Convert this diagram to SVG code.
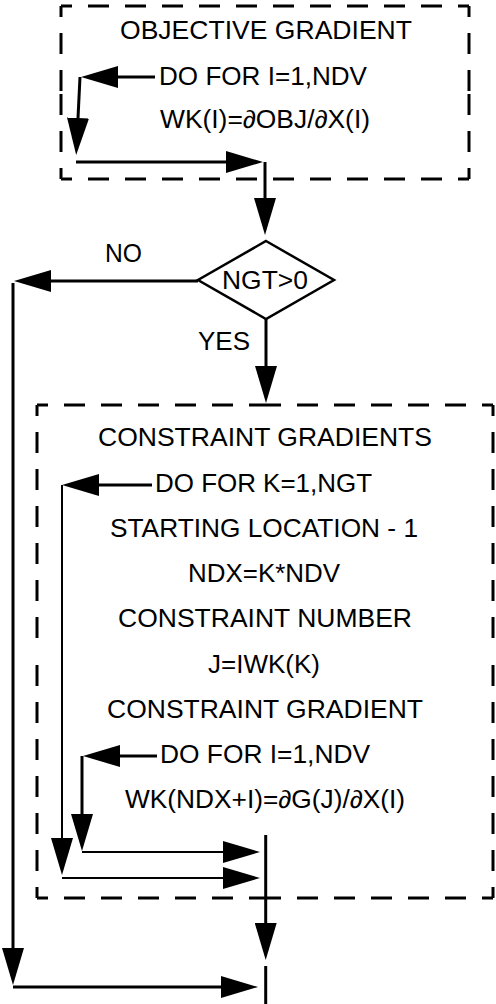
<svg xmlns="http://www.w3.org/2000/svg" width="496" height="1004" viewBox="0 0 496 1004">
  <style>
    .box { fill: none; stroke: #000; stroke-width: 3; stroke-dasharray: 21 16; stroke-dashoffset: 10; }
    .ln { fill: none; stroke: #000; stroke-width: 3; }
    .thin { stroke-width: 2; }
    .lbl { font-family: "Liberation Sans", Arial, sans-serif; font-size: 25px; fill: #000; text-anchor: middle; }
  </style>
  <defs>
    <marker id="ah" viewBox="0 0 37 22" refX="0" refY="11" markerWidth="37" markerHeight="22" markerUnits="userSpaceOnUse" orient="auto">
      <path d="M0,0 L37,11 L0,22 Z" fill="#000"/>
    </marker>
  </defs>
  <rect width="496" height="1004" fill="#fff"/>

  <!-- objective gradient block -->
  <g id="objective">
    <path class="box" d="M61,6 H265 M469,6 H265 M469,6 V92 M469,179 V92 M469,179 H265 M61,179 H265 M61,179 V92 M61,6 V92"/>
    <text class="lbl" x="266" y="39" textLength="292" lengthAdjust="spacingAndGlyphs">OBJECTIVE GRADIENT</text>
    <text class="lbl" x="263" y="85" textLength="208" lengthAdjust="spacingAndGlyphs">DO FOR I=1,NDV</text>
    <text class="lbl" x="265" y="128" textLength="210" lengthAdjust="spacingAndGlyphs">WK(I)=∂OBJ/∂X(I)</text>
  </g>

  <!-- decision -->
  <g id="decision">
    <polygon points="266,241 334,280 266,319 198,280" fill="#fff" stroke="#000" stroke-width="2.5"/>
    <text class="lbl" x="265" y="289" textLength="86" lengthAdjust="spacingAndGlyphs">NGT&gt;0</text>
  </g>

  <!-- constraint gradients block -->
  <g id="constraints">
    <path class="box" d="M37,405 H265 M493,405 H265 M493,405 V652 M493,898 V652 M493,898 H265 M37,898 H265 M37,898 V652 M37,405 V652"/>
    <text class="lbl" x="265" y="446" textLength="334" lengthAdjust="spacingAndGlyphs">CONSTRAINT GRADIENTS</text>
    <text class="lbl" x="263.5" y="492" textLength="217" lengthAdjust="spacingAndGlyphs">DO FOR K=1,NGT</text>
    <text class="lbl" x="264" y="537" textLength="308" lengthAdjust="spacingAndGlyphs">STARTING LOCATION - 1</text>
    <text class="lbl" x="264" y="582" textLength="152" lengthAdjust="spacingAndGlyphs">NDX=K*NDV</text>
    <text class="lbl" x="265" y="627" textLength="294" lengthAdjust="spacingAndGlyphs">CONSTRAINT NUMBER</text>
    <text class="lbl" x="264" y="673" textLength="112" lengthAdjust="spacingAndGlyphs">J=IWK(K)</text>
    <text class="lbl" x="265" y="718" textLength="316" lengthAdjust="spacingAndGlyphs">CONSTRAINT GRADIENT</text>
    <text class="lbl" x="265" y="763" textLength="210" lengthAdjust="spacingAndGlyphs">DO FOR I=1,NDV</text>
    <text class="lbl" x="265" y="808" textLength="280" lengthAdjust="spacingAndGlyphs">WK(NDX+I)=∂G(J)/∂X(I)</text>
  </g>

  <!-- branch labels -->
  <g id="labels">
    <text class="lbl" x="123.5" y="262" textLength="37" lengthAdjust="spacingAndGlyphs">NO</text>
    <text class="lbl" x="224" y="350" textLength="52" lengthAdjust="spacingAndGlyphs">YES</text>
  </g>

  <!-- flow lines -->
  <g id="connectors">
    <!-- objective loop -->
    <path class="ln" d="M155,77 H118" marker-end="url(#ah)"/>
    <path class="ln" d="M80,77 L78,118" marker-end="url(#ah)"/>
    <path class="ln" d="M76,162 H226" marker-end="url(#ah)"/>
    <path class="ln" d="M265,162 V198" marker-end="url(#ah)"/>
    <!-- NO branch -->
    <path class="ln" d="M198,281 H51" marker-end="url(#ah)"/>
    <path class="ln" d="M13,283 V948" marker-end="url(#ah)"/>
    <path class="ln" d="M13,987 H221" marker-end="url(#ah)"/>
    <path class="ln" d="M265.7,966 V1004"/>
    <!-- YES branch -->
    <path class="ln" d="M266,319 V366" marker-end="url(#ah)"/>
    <!-- outer K loop -->
    <path class="ln" d="M152,485 H99" marker-end="url(#ah)"/>
    <path class="ln thin" d="M62,485 V838" marker-end="url(#ah)"/>
    <path class="ln thin" d="M62,878 H223" marker-end="url(#ah)"/>
    <!-- inner I loop -->
    <path class="ln" d="M157,756 H120" marker-end="url(#ah)"/>
    <path class="ln" d="M82,756 V814" marker-end="url(#ah)"/>
    <path class="ln thin" d="M82,852 H223" marker-end="url(#ah)"/>
    <!-- exit -->
    <path class="ln" d="M265.7,835 V923" marker-end="url(#ah)"/>
  </g>
</svg>
